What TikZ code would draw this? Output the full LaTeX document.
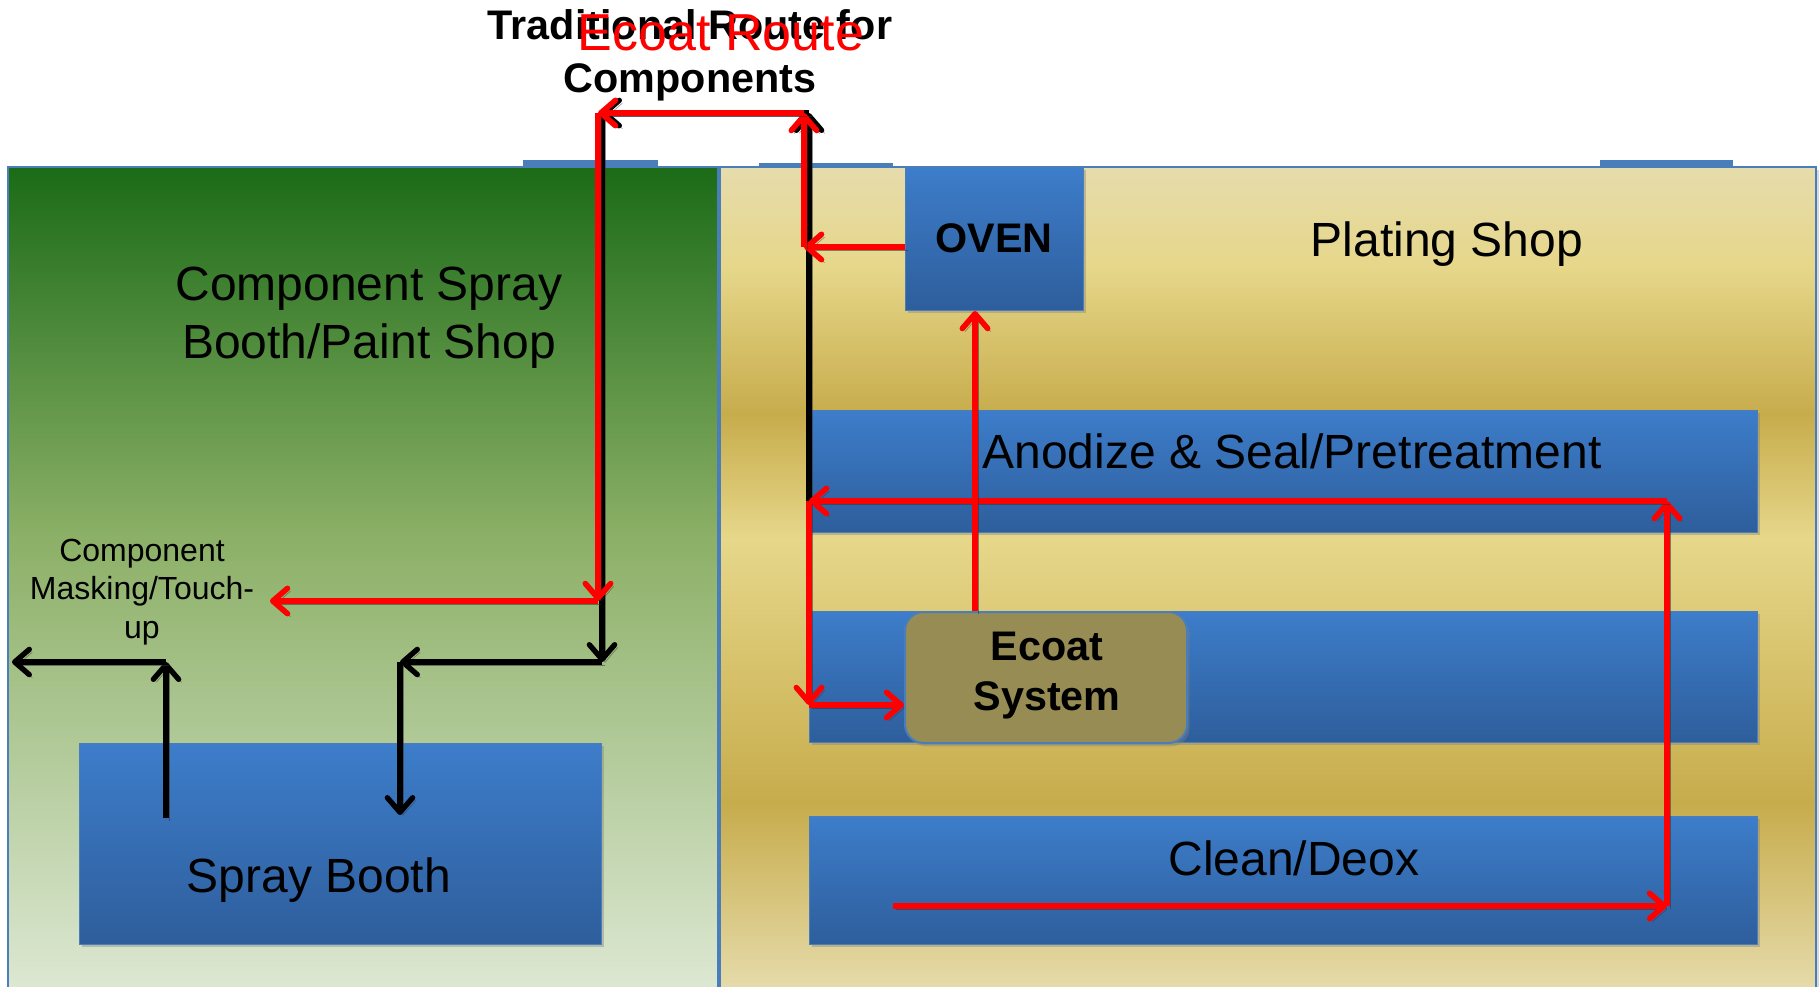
\documentclass[tikz,border=0pt]{standalone}
\usepackage{fontspec}
\setmainfont{Liberation Sans}
\usetikzlibrary{arrows.meta,shadows,fit}
\definecolor{bluebd}{HTML}{4A7EBB}
\definecolor{boxT}{HTML}{3D7DCA}
\definecolor{boxB}{HTML}{2E5E9C}
\definecolor{goldA}{HTML}{E6DCAC}
\definecolor{goldB}{HTML}{C7AC4C}
\definecolor{goldC}{HTML}{E6D78A}
\definecolor{grA}{HTML}{1B6B17}
\definecolor{grB}{HTML}{8CB067}
\definecolor{grC}{HTML}{DDE8D3}
\definecolor{olive}{HTML}{978C53}
\definecolor{routered}{HTML}{FF0000}
\pgfdeclareverticalshading{goldsh}{100bp}{color(0bp)=(goldA); color(25bp)=(goldA); color(36.5bp)=(goldB); color(52.5bp)=(goldC); color(60bp)=(goldB); color(69bp)=(goldC); color(75bp)=(goldA); color(100bp)=(goldA)}
\pgfdeclareverticalshading{greensh}{100bp}{color(0bp)=(grC); color(25bp)=(grC); color(52.5bp)=(grB); color(75bp)=(grA); color(100bp)=(grA)}
\tikzset{
  panel/.style={draw=bluebd, line width=1.5pt, inner sep=0pt,
    drop shadow={shadow xshift=2pt, shadow yshift=-2pt, opacity=0.3}},
  box/.style={draw=bluebd, line width=0.75pt, inner sep=0pt, top color=boxT, bottom color=boxB,
    drop shadow={shadow xshift=2pt, shadow yshift=-2.5pt, opacity=0.4}},
  bar/.style={fill=bluebd, draw=none, inner sep=0pt},
  tipstyle/.style={-{Straight Barb[length=11pt,width=19pt,round]}},
  arrshadow/.style={preaction={draw=black!80, draw opacity=0.55, tipstyle, transform canvas={shift={(2.2pt,-2.2pt)}}}},
  rt/.style={arrshadow, draw=routered, line width=4.2pt, tipstyle},
  bk/.style={arrshadow, draw=black, line width=4pt, tipstyle},
  lbl/.style={font=\fontsize{36}{43.5}\selectfont, inner sep=0pt, align=center},
  boldlbl/.style={font=\fontsize{31}{37.5}\selectfont\bfseries, inner sep=0pt, align=center},
}
\begin{document}
\begin{tikzpicture}[x=0.75pt,y=-0.75pt]
\useasboundingbox (0,0) rectangle (1820,986);
% panels
\node[panel, shading=greensh, fit={(8,167) (718,992)}] (paintshop) {};
\node[panel, shading=goldsh, fit={(720,167) (1816,992)}] (platingshop) {};
\node[bar, fit={(523,160) (658,167)}] (barA) {};
\node[bar, fit={(759,163) (893,168)}] (barB) {};
\node[bar, fit={(1600,160) (1733,166)}] (barC) {};
% boxes
\node[box, fit={(905,167) (1083,310)}] (oven) {};
\node[box, fit={(809,410) (1757,532)}] (anodize) {};
\node[box, fit={(809,611) (1757,742)}] (ecoatrow) {};
\node[box, fit={(809,816) (1757,944)}] (clean) {};
\node[box, fit={(79,743) (601,944)}] (spray) {};
\node[draw=bluebd, line width=1.5pt, fill=olive, rounded corners=14pt, inner sep=0pt,
  drop shadow={shadow xshift=2pt, shadow yshift=-2.5pt, opacity=0.4},
  fit={(905,612) (1187,743)}] (ecoat) {};
% labels
\node[lbl] (paintT) at (369,318) {Component Spray\\Booth/Paint Shop};
\node[lbl] (platingT) at (1447,244) {Plating Shop};
\node[boldlbl] (ovenT) at (oven.center) {OVEN};
\node[lbl] (anodizeT) at (1292,451) {Anodize \& Seal/Pretreatment};
\node[boldlbl] (ecoatT) at (1047,676) {Ecoat\\System};
\node[lbl] (cleanT) at (1294,858) {Clean/Deox};
\node[lbl] (sprayT) at (319,880) {Spray Booth};
\node[font=\fontsize{24}{29}\selectfont, inner sep=0pt, align=center] (maskT) at (142,592) {Component\\Masking/Touch-\\up};
% route coordinates
\coordinate (k1) at (809,501);
\coordinate (k2) at (809,113);
\coordinate (k3) at (602,113);
\coordinate (k4) at (602,662);
\coordinate (k5) at (400,662);
\coordinate (k6) at (400,815);
\coordinate (k7) at (166,818);
\coordinate (k8) at (166,662);
\coordinate (k9) at (12,662);
\coordinate (r0) at (893,906);
\coordinate (r1) at (1667,906);
\coordinate (r2) at (1667,501);
\coordinate (r3) at (809,501);
\coordinate (r4) at (809,705);
\coordinate (r5a) at (975,611);
\coordinate (r5b) at (975,311);
\coordinate (r6a) at (905,247);
\coordinate (r6b) at (804,247);
\coordinate (r7) at (804,113);
\coordinate (r8) at (598,113);
\coordinate (r9) at (598,601);
\coordinate (r10) at (270,601);
% traditional route (black)
\draw[bk] (k1) -- (k2);
\draw[bk] (k2) -- (k3);
\draw[bk] (k3) -- (k4);
\draw[bk] (k4) -- (k5);
\draw[bk] (k5) -- (k6);
\draw[bk] (k7) -- (k8);
\draw[bk] (k8) -- (k9);
% ecoat route (red)
\draw[rt] (r0) -- (r1);
\draw[rt] (r1) -- (r2);
\draw[rt] (r2) -- (r3);
\draw[rt] (r3) -- (r4);
\draw[rt] (r4) -- (r4 -| ecoat.west);
\draw[rt] (r5a) -- (r5b);
\draw[rt] (r6a) -- (r6b);
\draw[rt] (r6b) -- (r7);
\draw[rt] (r7) -- (r8);
\draw[rt] (r8) -- (r9);
\draw[rt] (r9) -- (r10);
% titles
\node[font=\fontsize{31}{40}\selectfont\bfseries, inner sep=0pt, align=center] (tradT) at (690,55) {Traditional Route for\\Components};
\node[font=\fontsize{39}{45}\selectfont, text=routered, inner sep=0pt] (ecoatRouteT) at (721,33) {Ecoat Route};
\end{tikzpicture}
\end{document}
